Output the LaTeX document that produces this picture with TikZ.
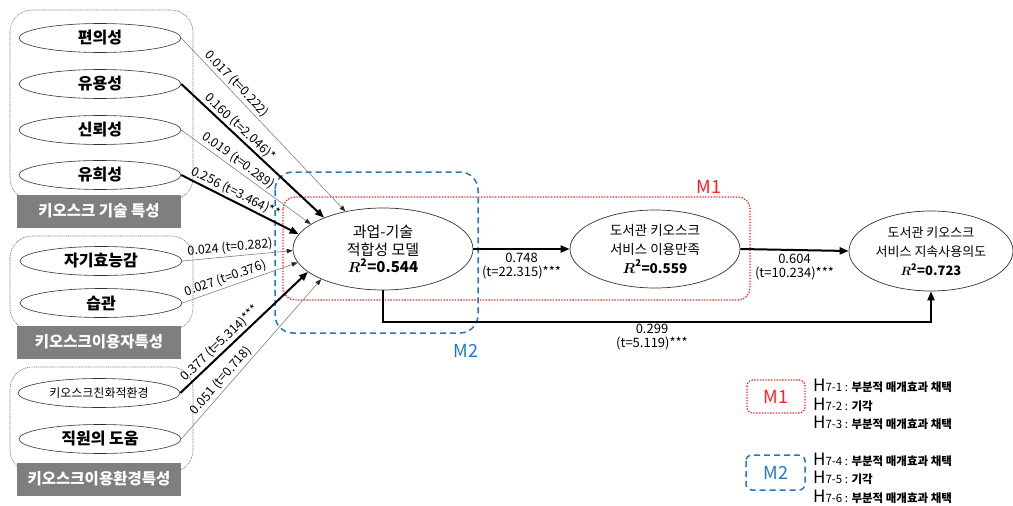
\documentclass[tikz,border=0pt]{standalone}
\usepackage{amsmath}
\usepackage{fontspec}
\setmainfont{Noto Sans CJK KR}
\usetikzlibrary{arrows.meta,shapes.geometric}
\definecolor{mred}{HTML}{FF2020}
\definecolor{mblue}{HTML}{1F78C8}
\definecolor{lblgray}{HTML}{7F7F7F}
\newcommand{\rsq}[1]{$\boldsymbol{R}^{\mathbf{2}}$\textbf{=#1}}
\newcommand{\hypline}[2]{{\fontsize{17}{17}\selectfont H}{\fontsize{11.5}{12}\selectfont #1 : \bfseries #2}}
\begin{document}
\begin{tikzpicture}[x=1pt,y=-1pt,
  var/.style={draw=black!80, fill=white, line width=0.6pt, ellipse, minimum width=162pt, minimum height=29pt, inner sep=0pt, font=\bfseries\fontsize{16}{17}\selectfont},
  big/.style={draw=black!80, fill=white, line width=0.7pt, ellipse, inner sep=0pt, align=center},
  grp/.style={draw=black!55, line width=0.6pt, dash pattern=on 1pt off 0.8pt, rounded corners=22pt},
  tag/.style={fill=lblgray, text=white, font=\bfseries\fontsize{15.5}{16}\selectfont, minimum width=164pt, minimum height=33pt, inner sep=0pt},
  thinp/.style={draw=black!50, line width=0.6pt, -{Triangle[length=6pt,width=4.5pt,color=black!85]}},
  thickp/.style={draw=black, line width=2pt, -{Triangle[length=9pt,width=7pt]}},
  coef/.style={font=\fontsize{12.5}{13}\selectfont, sloped, above, inner sep=0pt, outer sep=2.5pt},
  plab/.style={font=\fontsize{13}{14}\selectfont, align=center, inner sep=1pt},
  leg/.style={anchor=base west, inner sep=0pt},
  mlab/.style={font=\fontsize{18}{18}\selectfont, inner sep=0pt},
]
\useasboundingbox (0,0) rectangle (1013,506);

% model boxes
\draw[mblue, line width=1.5pt, dash pattern=on 6pt off 4pt, rounded corners=18pt] (275,172) rectangle (478,333);
\draw[mred, line width=1.3pt, dash pattern=on 1.3pt off 1.5pt, rounded corners=12pt] (283,197) rectangle (750,300);
\node[mlab, text=mred] (m1lab) at (709,187) {M1};
\node[mlab, text=mblue] (m2lab) at (466,351) {M2};

% groups
\draw[grp] (10,10) rectangle (193,200);
\draw[grp] (10,236) rectangle (193,330);
\draw[grp] (10,367) rectangle (193,472);

\node[var] (a1) at (100,38) {편의성};
\node[var] (a2) at (100,84) {유용성};
\node[var] (a3) at (100,130) {신뢰성};
\node[var] (a4) at (100,175) {유희성};
\node[var] (b1) at (101,261) {자기효능감};
\node[var] (b2) at (101,303) {습관};
\node[var, font=\fontsize{12}{13}\selectfont] (c1) at (99,393) {키오스크친화적환경};
\node[var] (c2) at (100,439) {직원의 도움};

\node[tag] (t1) at (99,211) {키오스크 기술 특성};
\node[tag] (t2) at (99,342) {키오스크이용자특성};
\node[tag] (t3) at (99,479) {키오스크이용환경특성};

% main constructs
\node[big, minimum width=180pt, minimum height=82pt, font=\fontsize{15}{17.5}\selectfont] (ttf) at (383,249) {과업-기술\\적합성 모델\\\rsq{0.544}};
\node[big, minimum width=170pt, minimum height=78pt, font=\fontsize{13.5}{19}\selectfont] (sat) at (655,249) {도서관 키오스크\\서비스 이용만족\\\rsq{0.559}};
\node[big, minimum width=164pt, minimum height=80pt, font=\fontsize{13}{19}\selectfont] (cont) at (931,251) {도서관 키오스크\\서비스 지속사용의도\\\rsq{0.723}};

% paths to TTF
\draw[thinp] (a1.east) -- node[coef, pos=0.3] (l1) {0.017 (t=0.222)} (ttf.135);
\draw[thickp] (a2.east) -- node[coef, pos=0.37] (l2) {0.160 (t=2.046)*} (ttf.152);
\draw[thinp] (a3.east) -- node[coef, pos=0.4] (l3) {0.019 (t=0.289)} (ttf.161);
\draw[thickp] (a4.east) -- node[coef, pos=0.43] (l4) {0.256 (t=3.464)**} (ttf.170);
\draw[thinp] (b1.east) -- node[coef, pos=0.44] (l5) {0.024 (t=0.282)} (ttf.181);
\draw[thinp] (b2.east) -- node[coef, pos=0.4] (l6) {0.027 (t=0.376)} (ttf.189);
\draw[thickp] (c1.east) -- node[coef, pos=0.36] (l7) {0.377 (t=5.314)***} (ttf.197);
\draw[thinp] (c2.east) -- node[coef, pos=0.33] (l8) {0.051 (t=0.718)} (ttf.206);

% structural paths
\draw[thickp] (ttf.east) -- node[plab, below=2pt] (l9) {0.748\\(t=22.315)***} (sat.west);
\draw[thickp] (sat.east) -- node[plab, below=2pt] (l10) {0.604\\(t=10.234)***} (cont.west);
\coordinate (low) at (0,322);
\draw[thickp] (ttf.south) -- (ttf.south |- low) -| (cont.south);
\node[plab] (l11) at (652,337) {0.299\\(t=5.119)***};

% legend
\draw[mred, line width=1.3pt, dash pattern=on 1.3pt off 1.5pt, rounded corners=6pt] (747,380) rectangle (805,413);
\node[mlab, text=mred] (lm1) at (776,397) {M1};
\draw[mblue, line width=1.5pt, dash pattern=on 6pt off 4pt, rounded corners=6pt] (746,455) rectangle (805,490);
\node[mlab, text=mblue] (lm2) at (776,473) {M2};

\node[leg] (h1) at (813,391.5) {\hypline{7-1}{부분적 매개효과 채택}};
\node[leg] (h2) at (813,410.5) {\hypline{7-2}{기각}};
\node[leg] (h3) at (813,428.5) {\hypline{7-3}{부분적 매개효과 채택}};
\node[leg] (h4) at (813,465.5) {\hypline{7-4}{부분적 매개효과 채택}};
\node[leg] (h5) at (813,483.5) {\hypline{7-5}{기각}};
\node[leg] (h6) at (813,502) {\hypline{7-6}{부분적 매개효과 채택}};
\end{tikzpicture}
\end{document}
